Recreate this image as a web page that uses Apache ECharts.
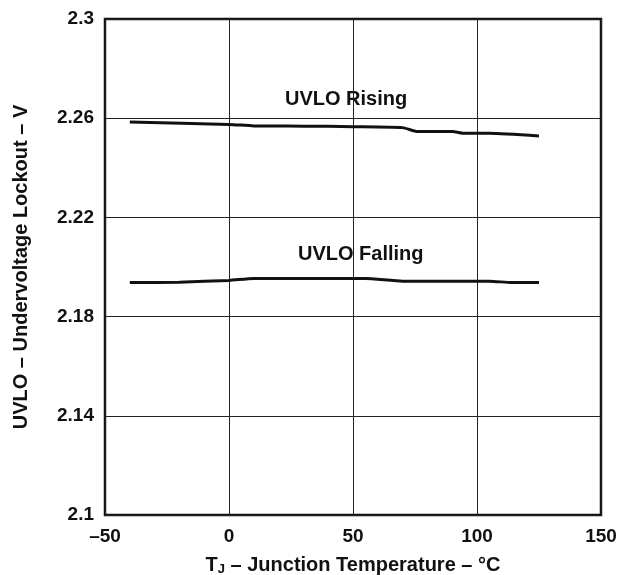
<!DOCTYPE html>
<html>
<head>
<meta charset="utf-8">
<script src="https://cdn.jsdelivr.net/npm/echarts@6/dist/echarts.min.js"></script>
<style>
  html, body { margin: 0; padding: 0; background: #fff; }
  #chart { width: 623px; height: 575px; }
</style>
</head>
<body>
<div id="chart"></div>
<script>
// Data
const risingT = [-40, 0, 10, 30, 50, 70, 76, 90, 95, 105, 125];
const risingV = [2.2585, 2.2575, 2.2569, 2.2568, 2.2566, 2.2562, 2.2546, 2.2546, 2.2539, 2.2539, 2.2528];
const fallingT = [-40, -20, 0, 10, 30, 55, 70, 105, 114, 125];
const fallingV = [2.1937, 2.1939, 2.1946, 2.1954, 2.1954, 2.1954, 2.1943, 2.1943, 2.1937, 2.1937];
const xTicks = [-50, 0, 50, 100, 150];
const yTicks = [2.1, 2.14, 2.18, 2.22, 2.26, 2.3];
const seriesNames = ['UVLO Rising', 'UVLO Falling'];

// The y axis is drawn in offset units so that its ticks start exactly at 2.1
const Y_BASE = yTicks[0];
const toAxis = v => +((v - Y_BASE) * 1000).toFixed(3);
const fromAxis = a => +(Y_BASE + a / 1000).toFixed(2);

const font = '"Liberation Sans", Arial, Helvetica, sans-serif';
const chart = echarts.init(document.getElementById('chart'), null, { renderer: 'canvas' });

chart.setOption({
  animation: false,
  backgroundColor: '#fff',
  grid: {
    left: 105, top: 19, right: 22, bottom: 60,
    outerBoundsMode: 'none', containLabel: false,
    show: true, borderColor: '#111', borderWidth: 2.5, backgroundColor: 'transparent'
  },
  xAxis: {
    type: 'value',
    min: xTicks[0], max: xTicks[xTicks.length - 1], interval: 50,
    axisLine: { show: false },
    axisTick: { show: false },
    splitLine: { show: true, lineStyle: { color: '#222', width: 1 } },
    axisLabel: {
      margin: 12, color: '#111', fontFamily: font, fontWeight: 'bold', fontSize: 19,
      formatter: v => String(v).replace('-', '\u2013')
    },
    name: '{t|T}{s|J}{t| \u2013 Junction Temperature \u2013 \u00B0C}',
    nameLocation: 'middle', nameGap: 40,
    nameTextStyle: {
      rich: {
        t: { fontFamily: font, fontWeight: 'bold', fontSize: 20, color: '#111' },
        s: { fontFamily: font, fontWeight: 'bold', fontSize: 13, color: '#111', verticalAlign: 'bottom', padding: [8, 0, 0, 0] }
      }
    }
  },
  yAxis: {
    type: 'value',
    min: 0, max: toAxis(yTicks[yTicks.length - 1]), interval: 40,
    axisLine: { show: false },
    axisTick: { show: false },
    splitLine: { show: true, lineStyle: { color: '#222', width: 1 } },
    axisLabel: {
      margin: 11, color: '#111', fontFamily: font, fontWeight: 'bold', fontSize: 19,
      formatter: a => String(fromAxis(a))
    },
    name: 'UVLO \u2013 Undervoltage Lockout \u2013 V',
    nameLocation: 'middle', nameGap: 74, nameRotate: 90,
    nameTextStyle: { fontFamily: font, fontWeight: 'bold', fontSize: 20, color: '#111' }
  },
  series: [
    {
      name: seriesNames[0], type: 'line', showSymbol: false, symbol: 'none',
      smooth: 0.2,
      lineStyle: { color: '#111', width: 3 },
      data: risingT.map((t, i) => [t, toAxis(risingV[i])])
    },
    {
      name: seriesNames[1], type: 'line', showSymbol: false, symbol: 'none',
      smooth: 0.2,
      lineStyle: { color: '#111', width: 3 },
      data: fallingT.map((t, i) => [t, toAxis(fallingV[i])])
    }
  ],
  graphic: [
    { type: 'text', left: 285, top: 89, style: { text: seriesNames[0], fill: '#111', font: 'bold 20px ' + font } },
    { type: 'text', left: 298, top: 244, style: { text: seriesNames[1], fill: '#111', font: 'bold 20px ' + font } }
  ]
});
</script>
</body>
</html>
